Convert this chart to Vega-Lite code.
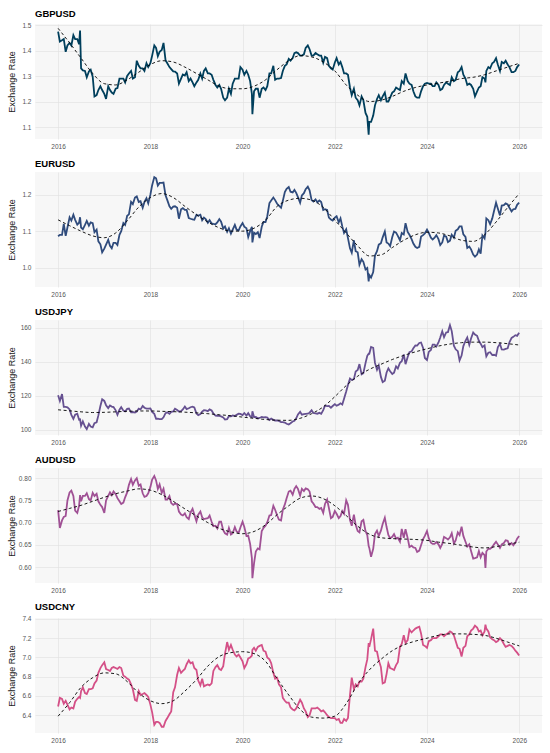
{
  "$schema": "https://vega.github.io/schema/vega-lite/v6.json",
  "background": "white",
  "padding": {"left": 7, "top": 8, "right": 7, "bottom": 2},
  "spacing": 8,
  "datasets": {
    "fx": [
      {"d":"2016-01-01","gbp":1.474,"eur":1.086,"jpy":120.3,"aud":0.728,"cny":6.49},
      {"d":"2016-01-15","gbp":1.435,"eur":1.09,"jpy":117.0,"aud":0.688,"cny":6.58},
      {"d":"2016-02-01","gbp":1.44,"eur":1.09,"jpy":121.0,"aud":0.705,"cny":6.57},
      {"d":"2016-02-15","gbp":1.445,"eur":1.12,"jpy":113.5,"aud":0.713,"cny":6.52},
      {"d":"2016-03-01","gbp":1.395,"eur":1.087,"jpy":113.5,"aud":0.715,"cny":6.55},
      {"d":"2016-03-15","gbp":1.42,"eur":1.11,"jpy":113.2,"aud":0.75,"cny":6.51},
      {"d":"2016-04-01","gbp":1.43,"eur":1.138,"jpy":112.0,"aud":0.768,"cny":6.46},
      {"d":"2016-04-15","gbp":1.42,"eur":1.129,"jpy":108.8,"aud":0.772,"cny":6.48},
      {"d":"2016-05-01","gbp":1.46,"eur":1.145,"jpy":106.5,"aud":0.76,"cny":6.47},
      {"d":"2016-05-15","gbp":1.445,"eur":1.131,"jpy":108.9,"aud":0.727,"cny":6.54},
      {"d":"2016-06-01","gbp":1.445,"eur":1.118,"jpy":109.5,"aud":0.722,"cny":6.57},
      {"d":"2016-06-15","gbp":1.425,"eur":1.123,"jpy":106.0,"aud":0.738,"cny":6.59},
      {"d":"2016-06-23","gbp":1.478,"eur":1.138,"jpy":106.2,"aud":0.762,"cny":6.58},
      {"d":"2016-07-01","gbp":1.33,"eur":1.11,"jpy":102.5,"aud":0.748,"cny":6.65},
      {"d":"2016-07-15","gbp":1.322,"eur":1.105,"jpy":105.0,"aud":0.76,"cny":6.69},
      {"d":"2016-08-01","gbp":1.32,"eur":1.117,"jpy":102.0,"aud":0.76,"cny":6.63},
      {"d":"2016-08-15","gbp":1.295,"eur":1.128,"jpy":100.5,"aud":0.766,"cny":6.62},
      {"d":"2016-09-01","gbp":1.318,"eur":1.115,"jpy":103.5,"aud":0.753,"cny":6.67},
      {"d":"2016-09-15","gbp":1.325,"eur":1.124,"jpy":102.0,"aud":0.75,"cny":6.67},
      {"d":"2016-10-01","gbp":1.297,"eur":1.122,"jpy":101.5,"aud":0.767,"cny":6.68},
      {"d":"2016-10-15","gbp":1.22,"eur":1.097,"jpy":104.0,"aud":0.76,"cny":6.73},
      {"d":"2016-11-01","gbp":1.225,"eur":1.104,"jpy":104.5,"aud":0.765,"cny":6.76},
      {"d":"2016-11-15","gbp":1.245,"eur":1.072,"jpy":108.5,"aud":0.748,"cny":6.84},
      {"d":"2016-12-01","gbp":1.26,"eur":1.064,"jpy":114.0,"aud":0.74,"cny":6.89},
      {"d":"2016-12-15","gbp":1.245,"eur":1.042,"jpy":118.0,"aud":0.735,"cny":6.92},
      {"d":"2017-01-01","gbp":1.23,"eur":1.052,"jpy":117.0,"aud":0.722,"cny":6.95},
      {"d":"2017-01-15","gbp":1.21,"eur":1.063,"jpy":114.5,"aud":0.75,"cny":6.88},
      {"d":"2017-02-01","gbp":1.26,"eur":1.076,"jpy":112.8,"aud":0.76,"cny":6.87},
      {"d":"2017-02-15","gbp":1.245,"eur":1.06,"jpy":114.3,"aud":0.768,"cny":6.86},
      {"d":"2017-03-01","gbp":1.235,"eur":1.053,"jpy":113.7,"aud":0.762,"cny":6.89},
      {"d":"2017-03-15","gbp":1.23,"eur":1.068,"jpy":113.4,"aud":0.77,"cny":6.9},
      {"d":"2017-04-01","gbp":1.25,"eur":1.068,"jpy":111.5,"aud":0.764,"cny":6.89},
      {"d":"2017-04-15","gbp":1.253,"eur":1.062,"jpy":108.8,"aud":0.755,"cny":6.88},
      {"d":"2017-05-01","gbp":1.29,"eur":1.09,"jpy":111.8,"aud":0.748,"cny":6.9},
      {"d":"2017-05-15","gbp":1.29,"eur":1.1,"jpy":113.3,"aud":0.742,"cny":6.89},
      {"d":"2017-06-01","gbp":1.29,"eur":1.122,"jpy":111.3,"aud":0.745,"cny":6.81},
      {"d":"2017-06-15","gbp":1.275,"eur":1.117,"jpy":110.8,"aud":0.757,"cny":6.8},
      {"d":"2017-07-01","gbp":1.3,"eur":1.142,"jpy":112.3,"aud":0.768,"cny":6.78},
      {"d":"2017-07-15","gbp":1.31,"eur":1.146,"jpy":112.5,"aud":0.785,"cny":6.77},
      {"d":"2017-08-01","gbp":1.32,"eur":1.18,"jpy":110.3,"aud":0.798,"cny":6.72},
      {"d":"2017-08-15","gbp":1.29,"eur":1.174,"jpy":110.5,"aud":0.785,"cny":6.67},
      {"d":"2017-09-01","gbp":1.295,"eur":1.192,"jpy":110.2,"aud":0.795,"cny":6.56},
      {"d":"2017-09-15","gbp":1.36,"eur":1.195,"jpy":110.8,"aud":0.8,"cny":6.55},
      {"d":"2017-10-01","gbp":1.34,"eur":1.18,"jpy":112.5,"aud":0.783,"cny":6.65},
      {"d":"2017-10-15","gbp":1.33,"eur":1.182,"jpy":112.0,"aud":0.786,"cny":6.61},
      {"d":"2017-11-01","gbp":1.33,"eur":1.164,"jpy":114.0,"aud":0.766,"cny":6.62},
      {"d":"2017-11-15","gbp":1.32,"eur":1.18,"jpy":113.0,"aud":0.758,"cny":6.63},
      {"d":"2017-12-01","gbp":1.35,"eur":1.19,"jpy":112.5,"aud":0.76,"cny":6.61},
      {"d":"2017-12-15","gbp":1.335,"eur":1.176,"jpy":112.5,"aud":0.766,"cny":6.59},
      {"d":"2018-01-01","gbp":1.35,"eur":1.2,"jpy":112.6,"aud":0.78,"cny":6.51},
      {"d":"2018-01-15","gbp":1.38,"eur":1.226,"jpy":110.5,"aud":0.797,"cny":6.43},
      {"d":"2018-02-01","gbp":1.42,"eur":1.248,"jpy":109.4,"aud":0.805,"cny":6.3},
      {"d":"2018-02-15","gbp":1.41,"eur":1.245,"jpy":106.5,"aud":0.795,"cny":6.33},
      {"d":"2018-03-01","gbp":1.378,"eur":1.225,"jpy":106.6,"aud":0.776,"cny":6.33},
      {"d":"2018-03-15","gbp":1.395,"eur":1.232,"jpy":106.3,"aud":0.786,"cny":6.32},
      {"d":"2018-04-01","gbp":1.402,"eur":1.232,"jpy":106.3,"aud":0.767,"cny":6.28},
      {"d":"2018-04-15","gbp":1.43,"eur":1.233,"jpy":107.4,"aud":0.776,"cny":6.28},
      {"d":"2018-05-01","gbp":1.362,"eur":1.198,"jpy":109.8,"aud":0.752,"cny":6.34},
      {"d":"2018-05-15","gbp":1.35,"eur":1.185,"jpy":110.3,"aud":0.752,"cny":6.37},
      {"d":"2018-06-01","gbp":1.335,"eur":1.168,"jpy":109.4,"aud":0.76,"cny":6.41},
      {"d":"2018-06-15","gbp":1.327,"eur":1.161,"jpy":110.6,"aud":0.744,"cny":6.44},
      {"d":"2018-07-01","gbp":1.318,"eur":1.167,"jpy":110.8,"aud":0.74,"cny":6.64},
      {"d":"2018-07-15","gbp":1.317,"eur":1.168,"jpy":112.4,"aud":0.743,"cny":6.69},
      {"d":"2018-08-01","gbp":1.31,"eur":1.164,"jpy":111.7,"aud":0.742,"cny":6.82},
      {"d":"2018-08-15","gbp":1.27,"eur":1.134,"jpy":110.8,"aud":0.725,"cny":6.89},
      {"d":"2018-09-01","gbp":1.29,"eur":1.16,"jpy":111.0,"aud":0.718,"cny":6.84},
      {"d":"2018-09-15","gbp":1.306,"eur":1.163,"jpy":112.0,"aud":0.716,"cny":6.86},
      {"d":"2018-10-01","gbp":1.302,"eur":1.158,"jpy":113.7,"aud":0.721,"cny":6.88},
      {"d":"2018-10-15","gbp":1.315,"eur":1.158,"jpy":112.2,"aud":0.712,"cny":6.93},
      {"d":"2018-11-01","gbp":1.28,"eur":1.136,"jpy":112.7,"aud":0.708,"cny":6.97},
      {"d":"2018-11-15","gbp":1.29,"eur":1.134,"jpy":113.3,"aud":0.723,"cny":6.94},
      {"d":"2018-12-01","gbp":1.275,"eur":1.132,"jpy":113.6,"aud":0.731,"cny":6.95},
      {"d":"2018-12-15","gbp":1.26,"eur":1.131,"jpy":113.2,"aud":0.718,"cny":6.89},
      {"d":"2019-01-01","gbp":1.275,"eur":1.145,"jpy":109.6,"aud":0.703,"cny":6.87},
      {"d":"2019-01-15","gbp":1.285,"eur":1.142,"jpy":108.6,"aud":0.718,"cny":6.76},
      {"d":"2019-02-01","gbp":1.31,"eur":1.145,"jpy":109.3,"aud":0.725,"cny":6.71},
      {"d":"2019-02-15","gbp":1.29,"eur":1.13,"jpy":110.7,"aud":0.712,"cny":6.78},
      {"d":"2019-03-01","gbp":1.32,"eur":1.137,"jpy":111.5,"aud":0.708,"cny":6.7},
      {"d":"2019-03-15","gbp":1.33,"eur":1.133,"jpy":111.4,"aud":0.709,"cny":6.71},
      {"d":"2019-04-01","gbp":1.31,"eur":1.123,"jpy":111.0,"aud":0.71,"cny":6.72},
      {"d":"2019-04-15","gbp":1.31,"eur":1.13,"jpy":112.0,"aud":0.716,"cny":6.71},
      {"d":"2019-05-01","gbp":1.305,"eur":1.121,"jpy":111.4,"aud":0.702,"cny":6.73},
      {"d":"2019-05-15","gbp":1.285,"eur":1.12,"jpy":109.6,"aud":0.692,"cny":6.86},
      {"d":"2019-06-01","gbp":1.265,"eur":1.119,"jpy":108.4,"aud":0.693,"cny":6.9},
      {"d":"2019-06-15","gbp":1.255,"eur":1.124,"jpy":108.3,"aud":0.687,"cny":6.92},
      {"d":"2019-07-01","gbp":1.265,"eur":1.133,"jpy":108.2,"aud":0.702,"cny":6.88},
      {"d":"2019-07-15","gbp":1.25,"eur":1.126,"jpy":107.9,"aud":0.702,"cny":6.87},
      {"d":"2019-08-01","gbp":1.215,"eur":1.107,"jpy":107.3,"aud":0.683,"cny":6.91},
      {"d":"2019-08-15","gbp":1.205,"eur":1.113,"jpy":106.1,"aud":0.676,"cny":7.04},
      {"d":"2019-09-01","gbp":1.215,"eur":1.098,"jpy":106.3,"aud":0.673,"cny":7.16},
      {"d":"2019-09-15","gbp":1.25,"eur":1.108,"jpy":108.1,"aud":0.688,"cny":7.08},
      {"d":"2019-10-01","gbp":1.23,"eur":1.093,"jpy":107.9,"aud":0.673,"cny":7.13},
      {"d":"2019-10-15","gbp":1.27,"eur":1.104,"jpy":108.5,"aud":0.676,"cny":7.08},
      {"d":"2019-11-01","gbp":1.29,"eur":1.117,"jpy":108.2,"aud":0.69,"cny":7.03},
      {"d":"2019-11-15","gbp":1.29,"eur":1.104,"jpy":108.8,"aud":0.68,"cny":7.01},
      {"d":"2019-12-01","gbp":1.29,"eur":1.102,"jpy":109.5,"aud":0.677,"cny":7.03},
      {"d":"2019-12-15","gbp":1.335,"eur":1.113,"jpy":109.4,"aud":0.689,"cny":7.0},
      {"d":"2020-01-01","gbp":1.325,"eur":1.122,"jpy":108.7,"aud":0.702,"cny":6.96},
      {"d":"2020-01-15","gbp":1.305,"eur":1.112,"jpy":109.9,"aud":0.69,"cny":6.89},
      {"d":"2020-02-01","gbp":1.32,"eur":1.108,"jpy":108.4,"aud":0.67,"cny":6.93},
      {"d":"2020-02-15","gbp":1.305,"eur":1.084,"jpy":109.8,"aud":0.671,"cny":6.99},
      {"d":"2020-03-01","gbp":1.28,"eur":1.1,"jpy":108.0,"aud":0.652,"cny":7.0},
      {"d":"2020-03-15","gbp":1.23,"eur":1.112,"jpy":107.5,"aud":0.62,"cny":7.02},
      {"d":"2020-03-19","gbp":1.15,"eur":1.069,"jpy":110.9,"aud":0.575,"cny":7.08},
      {"d":"2020-04-01","gbp":1.24,"eur":1.096,"jpy":107.5,"aud":0.608,"cny":7.1},
      {"d":"2020-04-15","gbp":1.25,"eur":1.092,"jpy":107.6,"aud":0.635,"cny":7.07},
      {"d":"2020-05-01","gbp":1.25,"eur":1.097,"jpy":106.8,"aud":0.642,"cny":7.11},
      {"d":"2020-05-15","gbp":1.215,"eur":1.081,"jpy":107.0,"aud":0.64,"cny":7.12},
      {"d":"2020-06-01","gbp":1.25,"eur":1.112,"jpy":107.6,"aud":0.681,"cny":7.13},
      {"d":"2020-06-15","gbp":1.255,"eur":1.125,"jpy":107.3,"aud":0.688,"cny":7.07},
      {"d":"2020-07-01","gbp":1.245,"eur":1.125,"jpy":107.5,"aud":0.693,"cny":7.06},
      {"d":"2020-07-15","gbp":1.26,"eur":1.141,"jpy":107.2,"aud":0.701,"cny":7.0},
      {"d":"2020-08-01","gbp":1.31,"eur":1.177,"jpy":105.8,"aud":0.716,"cny":6.98},
      {"d":"2020-08-15","gbp":1.31,"eur":1.184,"jpy":106.6,"aud":0.717,"cny":6.94},
      {"d":"2020-09-01","gbp":1.34,"eur":1.192,"jpy":105.9,"aud":0.738,"cny":6.84},
      {"d":"2020-09-15","gbp":1.285,"eur":1.185,"jpy":105.5,"aud":0.729,"cny":6.78},
      {"d":"2020-10-01","gbp":1.29,"eur":1.175,"jpy":105.6,"aud":0.716,"cny":6.79},
      {"d":"2020-10-15","gbp":1.29,"eur":1.17,"jpy":105.2,"aud":0.707,"cny":6.72},
      {"d":"2020-11-01","gbp":1.292,"eur":1.164,"jpy":104.6,"aud":0.705,"cny":6.69},
      {"d":"2020-11-15","gbp":1.32,"eur":1.183,"jpy":104.6,"aud":0.729,"cny":6.58},
      {"d":"2020-12-01","gbp":1.34,"eur":1.207,"jpy":104.3,"aud":0.741,"cny":6.55},
      {"d":"2020-12-15","gbp":1.345,"eur":1.216,"jpy":103.6,"aud":0.755,"cny":6.53},
      {"d":"2021-01-01","gbp":1.367,"eur":1.221,"jpy":103.2,"aud":0.77,"cny":6.53},
      {"d":"2021-01-15","gbp":1.36,"eur":1.208,"jpy":103.9,"aud":0.772,"cny":6.48},
      {"d":"2021-02-01","gbp":1.37,"eur":1.206,"jpy":104.9,"aud":0.763,"cny":6.46},
      {"d":"2021-02-15","gbp":1.39,"eur":1.213,"jpy":105.4,"aud":0.776,"cny":6.45},
      {"d":"2021-03-01","gbp":1.393,"eur":1.205,"jpy":106.8,"aud":0.782,"cny":6.47},
      {"d":"2021-03-15","gbp":1.39,"eur":1.193,"jpy":109.1,"aud":0.776,"cny":6.51},
      {"d":"2021-04-01","gbp":1.38,"eur":1.178,"jpy":110.6,"aud":0.761,"cny":6.56},
      {"d":"2021-04-15","gbp":1.38,"eur":1.198,"jpy":108.9,"aud":0.776,"cny":6.53},
      {"d":"2021-05-01","gbp":1.385,"eur":1.204,"jpy":109.3,"aud":0.771,"cny":6.47},
      {"d":"2021-05-15","gbp":1.41,"eur":1.215,"jpy":109.4,"aud":0.777,"cny":6.44},
      {"d":"2021-06-01","gbp":1.42,"eur":1.222,"jpy":109.5,"aud":0.775,"cny":6.38},
      {"d":"2021-06-15","gbp":1.405,"eur":1.212,"jpy":110.1,"aud":0.77,"cny":6.4},
      {"d":"2021-07-01","gbp":1.38,"eur":1.185,"jpy":111.5,"aud":0.748,"cny":6.47},
      {"d":"2021-07-15","gbp":1.38,"eur":1.181,"jpy":109.9,"aud":0.743,"cny":6.47},
      {"d":"2021-08-01","gbp":1.39,"eur":1.187,"jpy":109.7,"aud":0.735,"cny":6.47},
      {"d":"2021-08-15","gbp":1.385,"eur":1.179,"jpy":109.5,"aud":0.735,"cny":6.48},
      {"d":"2021-09-01","gbp":1.38,"eur":1.184,"jpy":110.0,"aud":0.731,"cny":6.46},
      {"d":"2021-09-15","gbp":1.38,"eur":1.18,"jpy":109.4,"aud":0.733,"cny":6.44},
      {"d":"2021-10-01","gbp":1.352,"eur":1.158,"jpy":111.6,"aud":0.722,"cny":6.45},
      {"d":"2021-10-15","gbp":1.375,"eur":1.16,"jpy":114.2,"aud":0.742,"cny":6.43},
      {"d":"2021-11-01","gbp":1.37,"eur":1.158,"jpy":114.0,"aud":0.752,"cny":6.4},
      {"d":"2021-11-15","gbp":1.34,"eur":1.137,"jpy":114.1,"aud":0.733,"cny":6.38},
      {"d":"2021-12-01","gbp":1.33,"eur":1.132,"jpy":113.0,"aud":0.71,"cny":6.37},
      {"d":"2021-12-15","gbp":1.325,"eur":1.129,"jpy":114.0,"aud":0.713,"cny":6.37},
      {"d":"2022-01-01","gbp":1.353,"eur":1.137,"jpy":115.1,"aud":0.726,"cny":6.37},
      {"d":"2022-01-15","gbp":1.37,"eur":1.141,"jpy":114.2,"aud":0.72,"cny":6.35},
      {"d":"2022-02-01","gbp":1.345,"eur":1.124,"jpy":114.8,"aud":0.71,"cny":6.36},
      {"d":"2022-02-15","gbp":1.355,"eur":1.135,"jpy":115.6,"aud":0.715,"cny":6.32},
      {"d":"2022-03-01","gbp":1.335,"eur":1.113,"jpy":114.9,"aud":0.726,"cny":6.32},
      {"d":"2022-03-15","gbp":1.31,"eur":1.095,"jpy":118.3,"aud":0.72,"cny":6.36},
      {"d":"2022-04-01","gbp":1.31,"eur":1.105,"jpy":122.5,"aud":0.75,"cny":6.34},
      {"d":"2022-04-15","gbp":1.305,"eur":1.081,"jpy":126.4,"aud":0.74,"cny":6.37},
      {"d":"2022-05-01","gbp":1.255,"eur":1.053,"jpy":130.1,"aud":0.706,"cny":6.61},
      {"d":"2022-05-15","gbp":1.225,"eur":1.041,"jpy":129.3,"aud":0.693,"cny":6.79},
      {"d":"2022-06-01","gbp":1.25,"eur":1.075,"jpy":129.8,"aud":0.718,"cny":6.67},
      {"d":"2022-06-15","gbp":1.215,"eur":1.045,"jpy":134.3,"aud":0.695,"cny":6.72},
      {"d":"2022-07-01","gbp":1.205,"eur":1.042,"jpy":135.2,"aud":0.681,"cny":6.7},
      {"d":"2022-07-15","gbp":1.185,"eur":1.008,"jpy":138.6,"aud":0.678,"cny":6.75},
      {"d":"2022-08-01","gbp":1.22,"eur":1.023,"jpy":132.6,"aud":0.703,"cny":6.75},
      {"d":"2022-08-15","gbp":1.205,"eur":1.016,"jpy":133.3,"aud":0.706,"cny":6.78},
      {"d":"2022-09-01","gbp":1.155,"eur":0.995,"jpy":139.2,"aud":0.681,"cny":6.9},
      {"d":"2022-09-15","gbp":1.14,"eur":0.999,"jpy":143.5,"aud":0.672,"cny":6.98},
      {"d":"2022-09-26","gbp":1.07,"eur":0.962,"jpy":144.7,"aud":0.647,"cny":7.15},
      {"d":"2022-10-01","gbp":1.12,"eur":0.98,"jpy":144.7,"aud":0.643,"cny":7.11},
      {"d":"2022-10-15","gbp":1.12,"eur":0.973,"jpy":148.7,"aud":0.623,"cny":7.19},
      {"d":"2022-11-01","gbp":1.145,"eur":0.988,"jpy":148.2,"aud":0.641,"cny":7.3},
      {"d":"2022-11-15","gbp":1.185,"eur":1.033,"jpy":139.3,"aud":0.674,"cny":7.07},
      {"d":"2022-12-01","gbp":1.21,"eur":1.045,"jpy":135.3,"aud":0.682,"cny":7.06},
      {"d":"2022-12-15","gbp":1.225,"eur":1.063,"jpy":137.8,"aud":0.67,"cny":6.97},
      {"d":"2023-01-01","gbp":1.205,"eur":1.067,"jpy":131.1,"aud":0.682,"cny":6.9},
      {"d":"2023-01-15","gbp":1.22,"eur":1.083,"jpy":128.1,"aud":0.697,"cny":6.73},
      {"d":"2023-02-01","gbp":1.235,"eur":1.099,"jpy":128.9,"aud":0.711,"cny":6.74},
      {"d":"2023-02-15","gbp":1.2,"eur":1.069,"jpy":133.7,"aud":0.69,"cny":6.83},
      {"d":"2023-03-01","gbp":1.2,"eur":1.066,"jpy":136.1,"aud":0.672,"cny":6.94},
      {"d":"2023-03-15","gbp":1.215,"eur":1.059,"jpy":134.4,"aud":0.665,"cny":6.89},
      {"d":"2023-04-01","gbp":1.235,"eur":1.084,"jpy":132.8,"aud":0.668,"cny":6.88},
      {"d":"2023-04-15","gbp":1.24,"eur":1.099,"jpy":133.6,"aud":0.674,"cny":6.87},
      {"d":"2023-05-01","gbp":1.255,"eur":1.096,"jpy":137.3,"aud":0.664,"cny":6.92},
      {"d":"2023-05-15","gbp":1.25,"eur":1.087,"jpy":136.0,"aud":0.666,"cny":6.95},
      {"d":"2023-06-01","gbp":1.245,"eur":1.075,"jpy":139.4,"aud":0.657,"cny":7.11},
      {"d":"2023-06-15","gbp":1.28,"eur":1.095,"jpy":140.3,"aud":0.686,"cny":7.14},
      {"d":"2023-07-01","gbp":1.27,"eur":1.091,"jpy":144.3,"aud":0.666,"cny":7.23},
      {"d":"2023-07-15","gbp":1.31,"eur":1.122,"jpy":138.6,"aud":0.685,"cny":7.15},
      {"d":"2023-08-01","gbp":1.28,"eur":1.098,"jpy":142.8,"aud":0.665,"cny":7.18},
      {"d":"2023-08-15","gbp":1.27,"eur":1.09,"jpy":145.6,"aud":0.645,"cny":7.29},
      {"d":"2023-09-01","gbp":1.265,"eur":1.078,"jpy":146.1,"aud":0.648,"cny":7.26},
      {"d":"2023-09-15","gbp":1.24,"eur":1.066,"jpy":147.9,"aud":0.644,"cny":7.28},
      {"d":"2023-10-01","gbp":1.22,"eur":1.057,"jpy":149.6,"aud":0.643,"cny":7.3},
      {"d":"2023-10-15","gbp":1.215,"eur":1.054,"jpy":149.5,"aud":0.634,"cny":7.31},
      {"d":"2023-11-01","gbp":1.215,"eur":1.057,"jpy":151.0,"aud":0.637,"cny":7.32},
      {"d":"2023-11-15","gbp":1.24,"eur":1.085,"jpy":151.3,"aud":0.649,"cny":7.25},
      {"d":"2023-12-01","gbp":1.26,"eur":1.089,"jpy":148.1,"aud":0.663,"cny":7.13},
      {"d":"2023-12-15","gbp":1.27,"eur":1.094,"jpy":142.2,"aud":0.67,"cny":7.12},
      {"d":"2024-01-01","gbp":1.273,"eur":1.104,"jpy":141.0,"aud":0.681,"cny":7.1},
      {"d":"2024-01-15","gbp":1.27,"eur":1.095,"jpy":145.8,"aud":0.665,"cny":7.17},
      {"d":"2024-02-01","gbp":1.27,"eur":1.082,"jpy":146.9,"aud":0.655,"cny":7.18},
      {"d":"2024-02-15","gbp":1.26,"eur":1.077,"jpy":150.1,"aud":0.652,"cny":7.2},
      {"d":"2024-03-01","gbp":1.26,"eur":1.082,"jpy":150.1,"aud":0.652,"cny":7.2},
      {"d":"2024-03-15","gbp":1.275,"eur":1.089,"jpy":149.0,"aud":0.656,"cny":7.2},
      {"d":"2024-04-01","gbp":1.265,"eur":1.078,"jpy":151.3,"aud":0.651,"cny":7.22},
      {"d":"2024-04-15","gbp":1.245,"eur":1.062,"jpy":154.2,"aud":0.643,"cny":7.24},
      {"d":"2024-05-01","gbp":1.25,"eur":1.069,"jpy":157.9,"aud":0.652,"cny":7.24},
      {"d":"2024-05-15","gbp":1.265,"eur":1.088,"jpy":154.4,"aud":0.668,"cny":7.22},
      {"d":"2024-06-01","gbp":1.275,"eur":1.085,"jpy":157.2,"aud":0.665,"cny":7.24},
      {"d":"2024-06-15","gbp":1.27,"eur":1.07,"jpy":157.4,"aud":0.662,"cny":7.25},
      {"d":"2024-07-01","gbp":1.265,"eur":1.074,"jpy":161.5,"aud":0.667,"cny":7.27},
      {"d":"2024-07-15","gbp":1.295,"eur":1.09,"jpy":158.0,"aud":0.676,"cny":7.26},
      {"d":"2024-08-01","gbp":1.28,"eur":1.082,"jpy":149.4,"aud":0.653,"cny":7.23},
      {"d":"2024-08-15","gbp":1.285,"eur":1.101,"jpy":147.3,"aud":0.66,"cny":7.17},
      {"d":"2024-09-01","gbp":1.315,"eur":1.105,"jpy":146.2,"aud":0.678,"cny":7.1},
      {"d":"2024-09-15","gbp":1.32,"eur":1.113,"jpy":140.8,"aud":0.672,"cny":7.09},
      {"d":"2024-10-01","gbp":1.335,"eur":1.113,"jpy":143.6,"aud":0.691,"cny":7.01},
      {"d":"2024-10-15","gbp":1.305,"eur":1.091,"jpy":149.2,"aud":0.67,"cny":7.1},
      {"d":"2024-11-01","gbp":1.29,"eur":1.084,"jpy":152.3,"aud":0.657,"cny":7.12},
      {"d":"2024-11-15","gbp":1.265,"eur":1.054,"jpy":154.3,"aud":0.646,"cny":7.22},
      {"d":"2024-12-01","gbp":1.27,"eur":1.058,"jpy":149.9,"aud":0.651,"cny":7.24},
      {"d":"2024-12-15","gbp":1.265,"eur":1.05,"jpy":153.6,"aud":0.636,"cny":7.28},
      {"d":"2025-01-01","gbp":1.25,"eur":1.036,"jpy":157.2,"aud":0.619,"cny":7.3},
      {"d":"2025-01-15","gbp":1.22,"eur":1.03,"jpy":156.0,"aud":0.62,"cny":7.33},
      {"d":"2025-02-01","gbp":1.24,"eur":1.036,"jpy":155.2,"aud":0.622,"cny":7.31},
      {"d":"2025-02-15","gbp":1.255,"eur":1.05,"jpy":152.3,"aud":0.636,"cny":7.27},
      {"d":"2025-03-01","gbp":1.26,"eur":1.038,"jpy":150.6,"aud":0.622,"cny":7.28},
      {"d":"2025-03-15","gbp":1.295,"eur":1.088,"jpy":148.6,"aud":0.632,"cny":7.23},
      {"d":"2025-04-01","gbp":1.29,"eur":1.08,"jpy":149.6,"aud":0.627,"cny":7.27},
      {"d":"2025-04-08","gbp":1.275,"eur":1.096,"jpy":146.2,"aud":0.598,"cny":7.34},
      {"d":"2025-04-15","gbp":1.32,"eur":1.135,"jpy":143.2,"aud":0.635,"cny":7.3},
      {"d":"2025-05-01","gbp":1.335,"eur":1.13,"jpy":145.3,"aud":0.641,"cny":7.27},
      {"d":"2025-05-15","gbp":1.33,"eur":1.119,"jpy":145.6,"aud":0.641,"cny":7.21},
      {"d":"2025-06-01","gbp":1.35,"eur":1.135,"jpy":143.9,"aud":0.645,"cny":7.19},
      {"d":"2025-06-15","gbp":1.355,"eur":1.155,"jpy":144.1,"aud":0.651,"cny":7.18},
      {"d":"2025-07-01","gbp":1.37,"eur":1.178,"jpy":143.5,"aud":0.657,"cny":7.16},
      {"d":"2025-07-15","gbp":1.345,"eur":1.162,"jpy":148.5,"aud":0.651,"cny":7.17},
      {"d":"2025-08-01","gbp":1.32,"eur":1.143,"jpy":150.5,"aud":0.643,"cny":7.2},
      {"d":"2025-08-15","gbp":1.355,"eur":1.17,"jpy":147.2,"aud":0.651,"cny":7.18},
      {"d":"2025-09-01","gbp":1.35,"eur":1.171,"jpy":147.1,"aud":0.654,"cny":7.14},
      {"d":"2025-09-15","gbp":1.36,"eur":1.176,"jpy":147.5,"aud":0.66,"cny":7.11},
      {"d":"2025-10-01","gbp":1.345,"eur":1.173,"jpy":147.9,"aud":0.659,"cny":7.12},
      {"d":"2025-10-15","gbp":1.335,"eur":1.164,"jpy":151.4,"aud":0.65,"cny":7.13},
      {"d":"2025-11-01","gbp":1.315,"eur":1.154,"jpy":154.0,"aud":0.654,"cny":7.12},
      {"d":"2025-11-15","gbp":1.315,"eur":1.16,"jpy":154.6,"aud":0.649,"cny":7.1},
      {"d":"2025-12-01","gbp":1.32,"eur":1.161,"jpy":155.6,"aud":0.655,"cny":7.07},
      {"d":"2025-12-15","gbp":1.335,"eur":1.172,"jpy":155.2,"aud":0.664,"cny":7.05},
      {"d":"2025-12-31","gbp":1.345,"eur":1.178,"jpy":157.0,"aud":0.67,"cny":7.02}
    ],
    "smooth": [
      {"d":"2016-01-01","gbp":1.487,"eur":1.131,"jpy":111.8,"aud":0.725,"cny":6.39},
      {"d":"2016-04-01","gbp":1.43,"eur":1.115,"jpy":111.2,"aud":0.732,"cny":6.53},
      {"d":"2016-07-01","gbp":1.37,"eur":1.1,"jpy":110.6,"aud":0.739,"cny":6.69},
      {"d":"2016-10-01","gbp":1.31,"eur":1.087,"jpy":110.2,"aud":0.748,"cny":6.79},
      {"d":"2017-01-01","gbp":1.27,"eur":1.082,"jpy":110.3,"aud":0.757,"cny":6.84},
      {"d":"2017-04-01","gbp":1.265,"eur":1.095,"jpy":110.6,"aud":0.765,"cny":6.83},
      {"d":"2017-07-01","gbp":1.285,"eur":1.128,"jpy":110.9,"aud":0.771,"cny":6.75},
      {"d":"2017-10-01","gbp":1.315,"eur":1.166,"jpy":111.1,"aud":0.776,"cny":6.63},
      {"d":"2018-01-01","gbp":1.345,"eur":1.192,"jpy":111.1,"aud":0.773,"cny":6.55},
      {"d":"2018-04-01","gbp":1.36,"eur":1.203,"jpy":110.9,"aud":0.763,"cny":6.52},
      {"d":"2018-07-01","gbp":1.355,"eur":1.192,"jpy":110.7,"aud":0.748,"cny":6.55},
      {"d":"2018-10-01","gbp":1.335,"eur":1.168,"jpy":110.4,"aud":0.731,"cny":6.65},
      {"d":"2019-01-01","gbp":1.31,"eur":1.145,"jpy":110.0,"aud":0.715,"cny":6.77},
      {"d":"2019-04-01","gbp":1.285,"eur":1.125,"jpy":109.5,"aud":0.7,"cny":6.91},
      {"d":"2019-07-01","gbp":1.26,"eur":1.109,"jpy":108.9,"aud":0.687,"cny":7.01},
      {"d":"2019-10-01","gbp":1.25,"eur":1.1,"jpy":108.3,"aud":0.679,"cny":7.05},
      {"d":"2020-01-01","gbp":1.25,"eur":1.1,"jpy":107.5,"aud":0.675,"cny":7.06},
      {"d":"2020-04-01","gbp":1.26,"eur":1.108,"jpy":106.8,"aud":0.68,"cny":7.04},
      {"d":"2020-07-01","gbp":1.285,"eur":1.13,"jpy":106.1,"aud":0.695,"cny":6.96},
      {"d":"2020-10-01","gbp":1.325,"eur":1.168,"jpy":105.7,"aud":0.718,"cny":6.78},
      {"d":"2021-01-01","gbp":1.36,"eur":1.185,"jpy":105.6,"aud":0.738,"cny":6.61},
      {"d":"2021-04-01","gbp":1.38,"eur":1.19,"jpy":106.8,"aud":0.755,"cny":6.46},
      {"d":"2021-07-01","gbp":1.375,"eur":1.185,"jpy":109.5,"aud":0.76,"cny":6.38},
      {"d":"2021-10-01","gbp":1.355,"eur":1.165,"jpy":113.5,"aud":0.754,"cny":6.37},
      {"d":"2022-01-01","gbp":1.32,"eur":1.13,"jpy":119.5,"aud":0.738,"cny":6.39},
      {"d":"2022-04-01","gbp":1.265,"eur":1.095,"jpy":126.0,"aud":0.716,"cny":6.52},
      {"d":"2022-07-01","gbp":1.225,"eur":1.06,"jpy":131.5,"aud":0.692,"cny":6.72},
      {"d":"2022-10-01","gbp":1.2,"eur":1.032,"jpy":135.5,"aud":0.674,"cny":6.87},
      {"d":"2023-01-01","gbp":1.205,"eur":1.035,"jpy":138.5,"aud":0.666,"cny":6.98},
      {"d":"2023-04-01","gbp":1.22,"eur":1.055,"jpy":141.3,"aud":0.664,"cny":7.07},
      {"d":"2023-07-01","gbp":1.24,"eur":1.075,"jpy":143.7,"aud":0.663,"cny":7.13},
      {"d":"2023-10-01","gbp":1.255,"eur":1.09,"jpy":145.8,"aud":0.662,"cny":7.17},
      {"d":"2024-01-01","gbp":1.265,"eur":1.097,"jpy":147.6,"aud":0.66,"cny":7.2},
      {"d":"2024-04-01","gbp":1.272,"eur":1.095,"jpy":149.2,"aud":0.656,"cny":7.23},
      {"d":"2024-07-01","gbp":1.28,"eur":1.087,"jpy":150.4,"aud":0.653,"cny":7.245},
      {"d":"2024-10-01","gbp":1.29,"eur":1.075,"jpy":151.2,"aud":0.649,"cny":7.245},
      {"d":"2025-01-01","gbp":1.295,"eur":1.072,"jpy":151.5,"aud":0.645,"cny":7.24},
      {"d":"2025-04-01","gbp":1.305,"eur":1.09,"jpy":151.5,"aud":0.643,"cny":7.23},
      {"d":"2025-07-01","gbp":1.32,"eur":1.125,"jpy":151.2,"aud":0.646,"cny":7.2},
      {"d":"2025-10-01","gbp":1.335,"eur":1.165,"jpy":150.6,"aud":0.651,"cny":7.16},
      {"d":"2026-01-01","gbp":1.35,"eur":1.203,"jpy":149.8,"aud":0.656,"cny":7.12}
    ]
  },
  "vconcat": [
    {
      "title": "GBPUSD",
      "width": 507,
      "height": 115,
      "encoding": {
        "x": {"field": "d", "type": "temporal",
          "scale": {"domain": [{"year": 2015, "month": 7, "date": 2}, {"year": 2026, "month": 6, "date": 30}]},
          "axis": {"values": [{"year": 2016}, {"year": 2018}, {"year": 2020}, {"year": 2022}, {"year": 2024}, {"year": 2026}], "format": "%Y", "title": null}},
        "y": {"field": "gbp", "type": "quantitative",
          "scale": {"domain": [1.053, 1.504], "nice": false, "zero": false},
          "axis": {"values": [1.1, 1.2, 1.3, 1.4, 1.5], "format": ".1f", "title": "Exchange Rate"}}
      },
      "layer": [
        {"data": {"name": "fx"}, "mark": {"type": "line", "color": "#003f5c", "strokeWidth": 1.8}},
        {"data": {"name": "smooth"}, "mark": {"type": "line", "color": "black", "strokeWidth": 0.9, "strokeDash": [3, 2.5], "interpolate": "monotone"}}
      ]
    },
    {
      "title": "EURUSD",
      "width": 507,
      "height": 115,
      "encoding": {
        "x": {"field": "d", "type": "temporal",
          "scale": {"domain": [{"year": 2015, "month": 7, "date": 2}, {"year": 2026, "month": 6, "date": 30}]},
          "axis": {"values": [{"year": 2016}, {"year": 2018}, {"year": 2020}, {"year": 2022}, {"year": 2024}, {"year": 2026}], "format": "%Y", "title": null}},
        "y": {"field": "eur", "type": "quantitative",
          "scale": {"domain": [0.947, 1.262], "nice": false, "zero": false},
          "axis": {"values": [1.0, 1.1, 1.2], "format": ".1f", "title": "Exchange Rate"}}
      },
      "layer": [
        {"data": {"name": "fx"}, "mark": {"type": "line", "color": "#2f4b7c", "strokeWidth": 1.8}},
        {"data": {"name": "smooth"}, "mark": {"type": "line", "color": "black", "strokeWidth": 0.9, "strokeDash": [3, 2.5], "interpolate": "monotone"}}
      ]
    },
    {
      "title": "USDJPY",
      "width": 507,
      "height": 115,
      "encoding": {
        "x": {"field": "d", "type": "temporal",
          "scale": {"domain": [{"year": 2015, "month": 7, "date": 2}, {"year": 2026, "month": 6, "date": 30}]},
          "axis": {"values": [{"year": 2016}, {"year": 2018}, {"year": 2020}, {"year": 2022}, {"year": 2024}, {"year": 2026}], "format": "%Y", "title": null}},
        "y": {"field": "jpy", "type": "quantitative",
          "scale": {"domain": [97, 164.5], "nice": false, "zero": false},
          "axis": {"values": [100, 120, 140, 160], "format": "d", "title": "Exchange Rate"}}
      },
      "layer": [
        {"data": {"name": "fx"}, "mark": {"type": "line", "color": "#665191", "strokeWidth": 1.8}},
        {"data": {"name": "smooth"}, "mark": {"type": "line", "color": "black", "strokeWidth": 0.9, "strokeDash": [3, 2.5], "interpolate": "monotone"}}
      ]
    },
    {
      "title": "AUDUSD",
      "width": 507,
      "height": 115,
      "encoding": {
        "x": {"field": "d", "type": "temporal",
          "scale": {"domain": [{"year": 2015, "month": 7, "date": 2}, {"year": 2026, "month": 6, "date": 30}]},
          "axis": {"values": [{"year": 2016}, {"year": 2018}, {"year": 2020}, {"year": 2022}, {"year": 2024}, {"year": 2026}], "format": "%Y", "title": null}},
        "y": {"field": "aud", "type": "quantitative",
          "scale": {"domain": [0.564, 0.823], "nice": false, "zero": false},
          "axis": {"values": [0.6, 0.65, 0.7, 0.75, 0.8], "format": ".2f", "title": "Exchange Rate"}}
      },
      "layer": [
        {"data": {"name": "fx"}, "mark": {"type": "line", "color": "#a05195", "strokeWidth": 1.8}},
        {"data": {"name": "smooth"}, "mark": {"type": "line", "color": "black", "strokeWidth": 0.9, "strokeDash": [3, 2.5], "interpolate": "monotone"}}
      ]
    },
    {
      "title": "USDCNY",
      "width": 507,
      "height": 115,
      "encoding": {
        "x": {"field": "d", "type": "temporal",
          "scale": {"domain": [{"year": 2015, "month": 7, "date": 2}, {"year": 2026, "month": 6, "date": 30}]},
          "axis": {"values": [{"year": 2016}, {"year": 2018}, {"year": 2020}, {"year": 2022}, {"year": 2024}, {"year": 2026}], "format": "%Y", "title": null}},
        "y": {"field": "cny", "type": "quantitative",
          "scale": {"domain": [6.215, 7.41], "nice": false, "zero": false},
          "axis": {"values": [6.4, 6.6, 6.8, 7.0, 7.2, 7.4], "format": ".1f", "title": "Exchange Rate"}}
      },
      "layer": [
        {"data": {"name": "fx"}, "mark": {"type": "line", "color": "#d45087", "strokeWidth": 1.8}},
        {"data": {"name": "smooth"}, "mark": {"type": "line", "color": "black", "strokeWidth": 0.9, "strokeDash": [3, 2.5], "interpolate": "monotone"}}
      ]
    }
  ],
  "config": {
    "font": "Liberation Sans",
    "view": {"fill": "#f7f7f7", "stroke": null},
    "title": {"anchor": "start", "frame": "group", "fontSize": 9.5, "fontWeight": "bold", "color": "black", "offset": 4},
    "axis": {
      "domain": false,
      "ticks": false,
      "grid": true,
      "gridColor": "#e2e2e2",
      "gridWidth": 0.7,
      "labelFontSize": 6.5,
      "labelColor": "#555555",
      "labelPadding": 4,
      "titleFontSize": 9,
      "titleFontWeight": "normal",
      "titleColor": "#222222"
    },
    "axisY": {"titleX": -19}
  }
}
